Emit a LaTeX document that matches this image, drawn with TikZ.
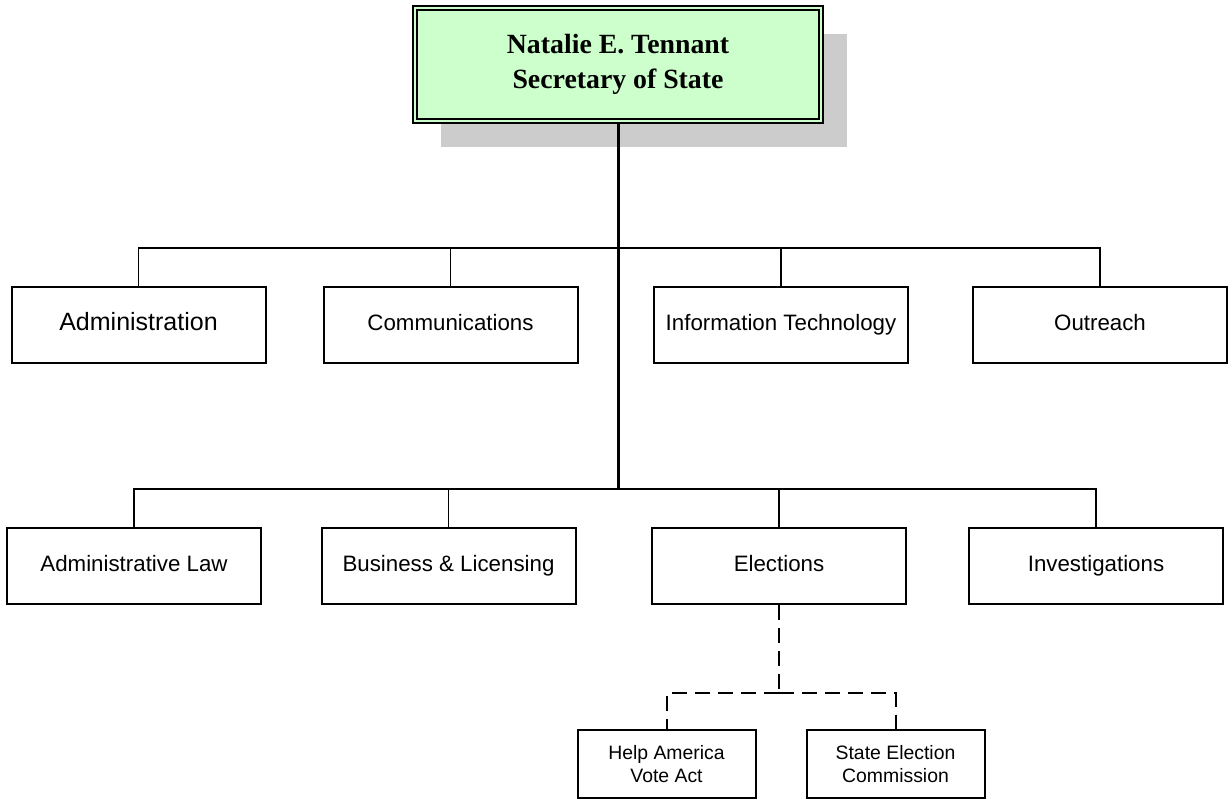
\documentclass[tikz,border=0pt]{standalone}
\usepackage{fontspec}
\setmainfont{Liberation Sans}
\newfontfamily\chieffont{Liberation Serif}
\usetikzlibrary{shadows}

\definecolor{chiefgreen}{rgb}{0.8,1,0.8}
\definecolor{shadowgray}{rgb}{0.8,0.8,0.8}

\tikzset{
    chief/.style={draw, line width=0.9pt, double=chiefgreen, double distance=1.2pt, fill=chiefgreen,
        minimum width=203pt, minimum height=56.5pt, inner sep=0pt, align=center,
        font=\chieffont\bfseries\fontsize{13.9}{17.5}\selectfont,
        drop shadow={shadow xshift=13pt, shadow yshift=-13pt, fill=shadowgray, opacity=1}},
    dept/.style={draw, line width=1pt, fill=white, minimum width=127pt, minimum height=38pt,
        inner sep=0pt, text height=0.72em, text depth=0.2em, font=\fontsize{11.15}{13.4}\selectfont},
    subunit/.style={draw, line width=1pt, fill=white, minimum width=89pt, minimum height=34pt,
        inner sep=0pt, align=center, font=\fontsize{9.7}{11.5}\selectfont},
    link/.style={line width=0.9pt},
    trunk/.style={line width=1.5pt},
    dashlink/.style={line width=1pt, dash pattern=on 7.5pt off 4pt}
}

\begin{document}
\begin{tikzpicture}[x=0.5pt,y=-0.5pt]
    \useasboundingbox (0,0) rectangle (1230,800);

    % head of office
    \node[chief] (sos) at (618,64.5) {Natalie E. Tennant\\Secretary of State};

    % first row
    \node[dept, font=\fontsize{12.5}{15}\selectfont] (admin) at (138.5,325) {Administration};
    \node[dept] (comm) at (450.5,325) {Communications};
    \node[dept] (itech) at (781,325) {Information Technology};
    \node[dept] (outreach) at (1100,325) {Outreach};

    % second row
    \node[dept] (adlaw) at (134,566) {Administrative Law};
    \node[dept] (busi) at (448.5,566) {Business \& Licensing};
    \node[dept] (elect) at (779,566) {Elections};
    \node[dept] (invest) at (1096,566) {Investigations};

    % under elections
    \node[subunit] (hava) at (666.5,764) {Help America\\Vote Act};
    \node[subunit] (sec) at (895.5,764) {State Election\\Commission};

    \coordinate (bar1) at (618,248);
    \coordinate (bar2) at (618,489);
    \coordinate (hub) at (779,693);

    \foreach \n in {admin,comm,itech,outreach}
        \draw[link] (bar1) -| (\n.north);
    \foreach \n in {adlaw,busi,elect,invest}
        \draw[link] (bar2) -| (\n.north);
    \draw[trunk] (sos.south) -- (bar2);

    \draw[dashlink] (elect.south) -- (hub);
    \foreach \n in {hava,sec}
        \draw[dashlink] (hub) -| (\n.north);

\end{tikzpicture}
\end{document}
